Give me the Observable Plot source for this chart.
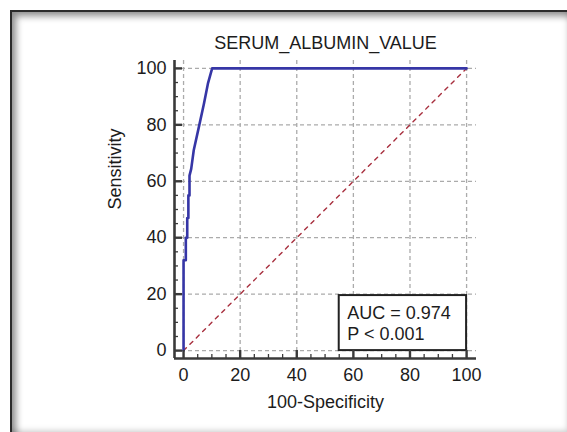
<!DOCTYPE html>
<html>
<head>
<meta charset="utf-8">
<script src="https://cdn.jsdelivr.net/npm/d3@7"></script>
<script src="https://cdn.jsdelivr.net/npm/@observablehq/plot@0.6"></script>
<style>
  html, body { margin: 0; padding: 0; background: #fff; width: 567px; height: 432px; overflow: hidden; }
  #win { position: absolute; left: 10px; top: 10px; width: 560px; height: 424px;
         border-top: 2px solid #2b2b2b; border-left: 2px solid #2b2b2b; box-sizing: border-box;
         box-shadow: inset 6px 6px 7px -2px rgba(0,0,0,0.45), inset -5px -6px 6px -3px rgba(0,0,0,0.22); }
  #chart { position: absolute; left: 0; top: 0; }
</style>
</head>
<body>
<div id="win"></div>
<div id="chart"></div>
<script>
// ---- data ----
const title = "SERUM_ALBUMIN_VALUE";
const xLabel = "100-Specificity";
const yLabel = "Sensitivity";
// ROC curve (100-specificity, sensitivity)
const rocX = [0, 0, 0.8, 0.8, 1.3, 1.3, 1.7, 1.7, 2.1, 2.1, 2.7, 3.6, 5.4, 7.2, 8.6, 10.1, 100];
const rocY = [0, 32, 32, 40, 40, 47, 47, 55, 55, 62, 64.4, 71, 79.2, 87.5, 94.6, 100, 100];
// reference diagonal
const diagX = [0, 100];
const diagY = [0, 100];
const majorTicks = [0, 20, 40, 60, 80, 100];
const minorTicks = [5, 10, 15, 25, 30, 35, 45, 50, 55, 65, 70, 75, 85, 90, 95];
const statLines = ["AUC = 0.974", "P < 0.001"];
// annotation box corners (data units)
const boxX = [55, 100];
const boxY = [0, 19.5];

// ---- chart ----
const W = 567, H = 432;
const mL = 174, mR = 91, mT = 60, mB = 74;
const xDomain = [-3.2, 103.5];
const yDomain = [-2.8, 102.8];
const frameW = W - mL - mR, frameH = H - mT - mB;

const roc = rocX.map((x, i) => ({x, y: rocY[i]}));
const diag = diagX.map((x, i) => ({x, y: diagY[i]}));
const box = [{x1: boxX[0], x2: boxX[1], y1: boxY[0], y2: boxY[1], text: statLines.join("\n")}];

const axisColor = "#3a3a3a";
const textColor = "#1c1c1c";
const fs = 18;

const chart = Plot.plot({
  width: W, height: H,
  marginLeft: mL, marginRight: mR, marginTop: mT, marginBottom: mB,
  x: {domain: xDomain},
  y: {domain: yDomain},
  style: {fontFamily: "'Liberation Sans', Arial, sans-serif", fontSize: fs + "px", color: textColor, background: "transparent", overflow: "visible"},
  marks: [
    Plot.gridX(majorTicks, {stroke: "#ababab", strokeOpacity: 1, strokeDasharray: "4,3", strokeWidth: 1.3}),
    Plot.gridY(majorTicks, {stroke: "#ababab", strokeOpacity: 1, strokeDasharray: "4,3", strokeWidth: 1.3}),
    Plot.line(diag, {x: "x", y: "y", stroke: "#a8303f", strokeWidth: 1.4, strokeDasharray: "4,5"}),
    Plot.line(roc, {x: "x", y: "y", stroke: "#3636a6", strokeWidth: 2.6}),
    Plot.rect(box, {x1: "x1", x2: "x2", y1: "y1", y2: "y2", fill: "white", stroke: "#222", strokeWidth: 2}),
    Plot.text(box, {x: "x1", y: d => (d.y1 + d.y2) / 2, text: "text", textAnchor: "start", lineAnchor: "middle", dx: 8, fontSize: fs, fill: textColor, lineHeight: 1.17}),
    // axis lines
    Plot.ruleX([xDomain[0]], {stroke: axisColor, strokeWidth: 2.6}),
    Plot.ruleY([yDomain[0]], {stroke: axisColor, strokeWidth: 2.6}),
    // inward ticks
    Plot.tickX(majorTicks, {x: d => d, insetTop: frameH - 8, stroke: axisColor, strokeWidth: 2.4}),
    Plot.tickX(minorTicks, {x: d => d, insetTop: frameH - 4, stroke: axisColor, strokeWidth: 1.3}),
    Plot.tickY(majorTicks, {y: d => d, insetRight: frameW - 8, stroke: axisColor, strokeWidth: 2.4}),
    Plot.tickY(minorTicks, {y: d => d, insetRight: frameW - 4, stroke: axisColor, strokeWidth: 1.3}),
    // tick labels
    Plot.axisX(majorTicks, {anchor: "bottom", tickSize: 0, tickPadding: 10, label: null, fontSize: fs, fill: textColor}),
    Plot.axisY(majorTicks, {anchor: "left", tickSize: 0, tickPadding: 8, label: null, fontSize: fs, fill: textColor}),
    // titles
    Plot.text([xLabel], {text: d => d, frameAnchor: "bottom", lineAnchor: "middle", dy: 44, fontSize: fs, fill: textColor}),
    Plot.text([yLabel], {text: d => d, frameAnchor: "left", lineAnchor: "middle", rotate: -90, dx: -59, fontSize: fs, fill: textColor}),
    Plot.text([title], {text: d => d, frameAnchor: "top", lineAnchor: "middle", dy: -17, fontSize: fs, fill: textColor})
  ]
});
document.getElementById("chart").appendChild(chart);
</script>
</body>
</html>
